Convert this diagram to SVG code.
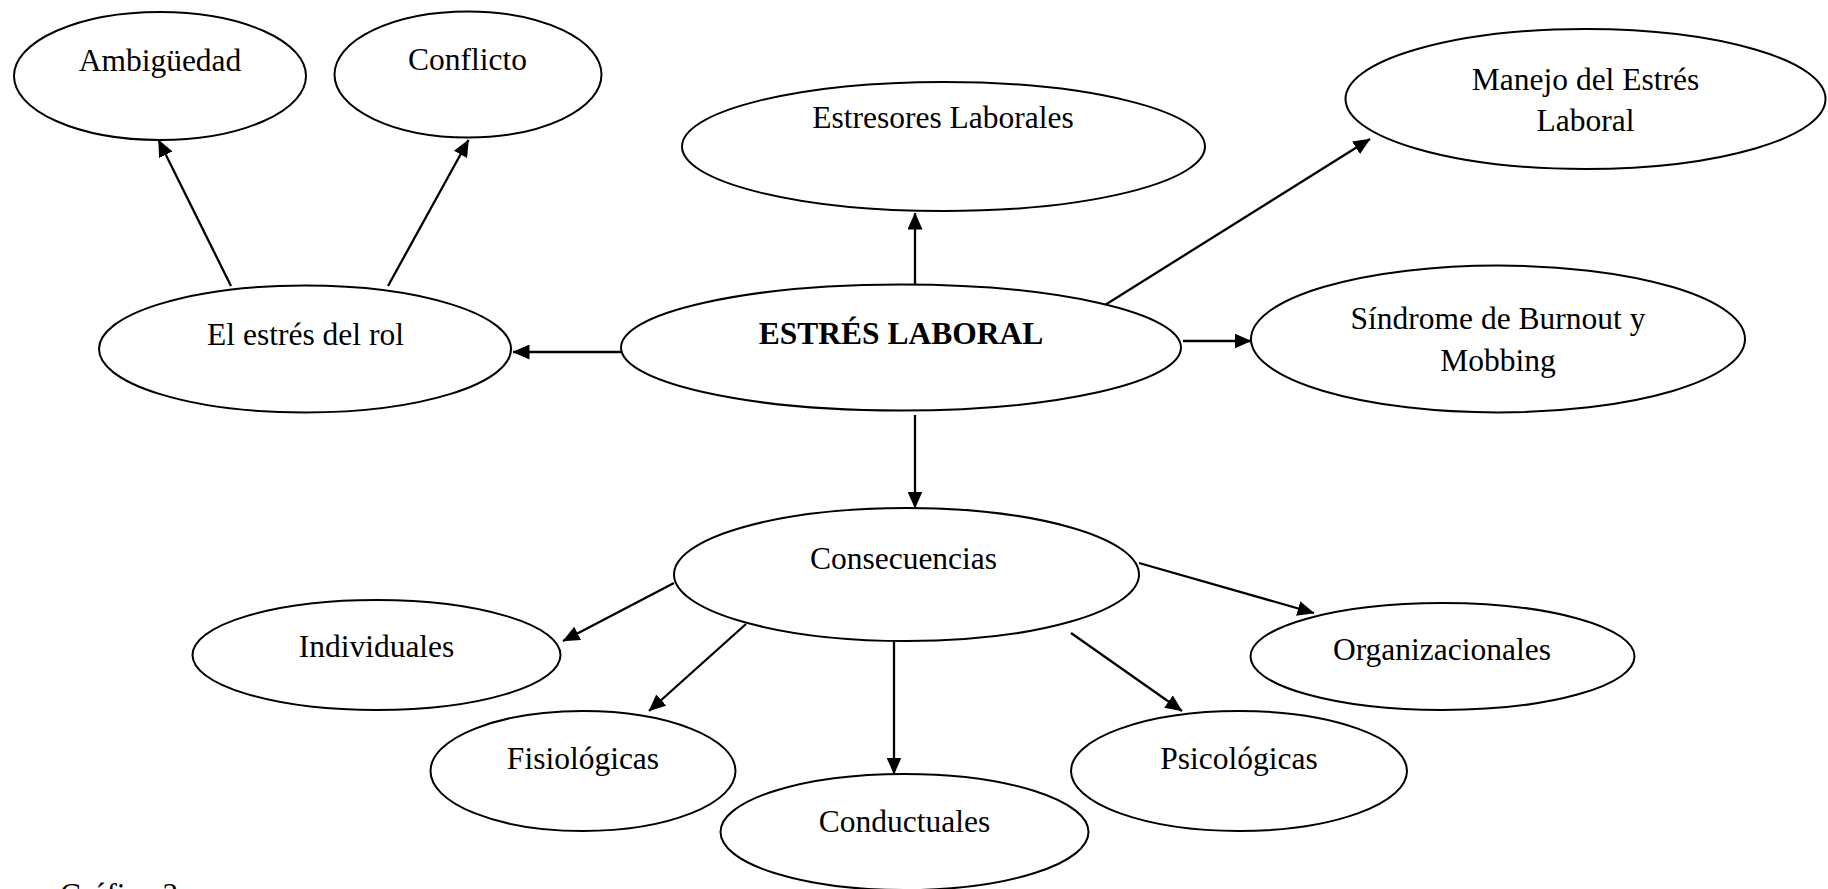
<svg xmlns="http://www.w3.org/2000/svg" width="1828" height="889" viewBox="0 0 1828 889">
<defs>
<marker id="ah" markerUnits="userSpaceOnUse" markerWidth="17" markerHeight="15" refX="16.5" refY="7.5" orient="auto">
<path d="M0,0 L17,7.5 L0,15 Z" fill="#000"/>
</marker>
<style>
.n ellipse{fill:#fff;stroke:#000;stroke-width:2}
.n text{font-family:"Liberation Serif","Times New Roman",serif;font-size:31.5px;fill:#000;text-anchor:middle}
.c line{stroke:#000;stroke-width:2.3;marker-end:url(#ah)}
</style>
</defs>
<rect width="1828" height="889" fill="#fff"/>
<g id="connectors" class="c">
<line x1="231" y1="286" x2="158.5" y2="140"/>
<line x1="388" y1="286" x2="468.5" y2="140"/>
<line x1="621" y1="352" x2="513" y2="352"/>
<line x1="915" y1="285" x2="915" y2="213"/>
<line x1="1105" y1="305" x2="1370" y2="139"/>
<line x1="1183" y1="341" x2="1251" y2="341"/>
<line x1="915" y1="415" x2="915" y2="508"/>
<line x1="674" y1="583" x2="563" y2="641"/>
<line x1="746" y1="624" x2="649" y2="711"/>
<line x1="894" y1="641" x2="894" y2="774"/>
<line x1="1071" y1="633" x2="1182" y2="711"/>
<line x1="1139" y1="563" x2="1314" y2="613"/>
</g>
<g id="n-ambiguedad" class="n"><ellipse cx="160" cy="76" rx="146" ry="64"/><text x="160" y="71">Ambigüedad</text></g>
<g id="n-conflicto" class="n"><ellipse cx="468" cy="74.5" rx="133.5" ry="63"/><text x="467.5" y="70">Conflicto</text></g>
<g id="n-estresores" class="n"><ellipse cx="943.5" cy="146.5" rx="261.5" ry="64.5"/><text x="943" y="128">Estresores Laborales</text></g>
<g id="n-manejo" class="n"><ellipse cx="1585.5" cy="99" rx="240" ry="70"/><text x="1585.5" y="90">Manejo del Estrés</text><text x="1585.5" y="131">Laboral</text></g>
<g id="n-rol" class="n"><ellipse cx="305" cy="349" rx="206" ry="63.5"/><text x="305.5" y="345">El estrés del rol</text></g>
<g id="n-estres" class="n"><ellipse cx="901" cy="347.5" rx="280" ry="63"/><text x="901" y="344" font-weight="bold">ESTRÉS LABORAL</text></g>
<g id="n-burnout" class="n"><ellipse cx="1498" cy="339" rx="247" ry="73.5"/><text x="1498" y="329">Síndrome de Burnout y</text><text x="1498" y="371">Mobbing</text></g>
<g id="n-consecuencias" class="n"><ellipse cx="906.5" cy="574.5" rx="232.5" ry="66.5"/><text x="903.5" y="569">Consecuencias</text></g>
<g id="n-individuales" class="n"><ellipse cx="376.5" cy="655" rx="184" ry="55"/><text x="376.5" y="657">Individuales</text></g>
<g id="n-organizacionales" class="n"><ellipse cx="1442.5" cy="656.5" rx="192" ry="53.5"/><text x="1442" y="660">Organizacionales</text></g>
<g id="n-fisiologicas" class="n"><ellipse cx="583" cy="771" rx="152.5" ry="60"/><text x="583" y="769">Fisiológicas</text></g>
<g id="n-psicologicas" class="n"><ellipse cx="1239" cy="771" rx="168" ry="60"/><text x="1239" y="769">Psicológicas</text></g>
<g id="n-conductuales" class="n"><ellipse cx="904.5" cy="832" rx="184" ry="58"/><text x="904.5" y="832">Conductuales</text></g>
<text x="60" y="905" font-family="'Liberation Serif','Times New Roman',serif" font-size="31px">Gráfico 3</text>
</svg>
